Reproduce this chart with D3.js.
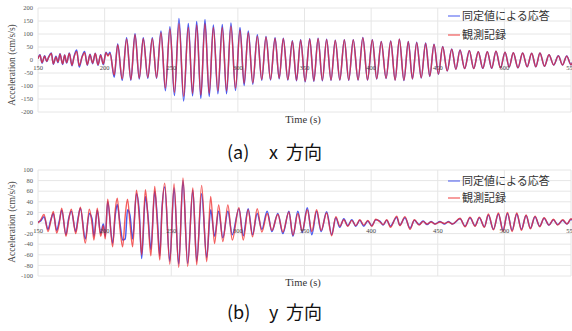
<!DOCTYPE html>
<html><head><meta charset="utf-8">
<script src="https://cdn.jsdelivr.net/npm/d3@7"></script>
<style>body{margin:0;background:#fff}svg{display:block}</style>
</head><body>
<script>
// ---------- data ----------
const xTicks = [150,200,250,300,350,400,450,500,550];
const aYTicks = [-200,-150,-100,-50,0,50,100,150,200];
const bYTicks = [-100,-80,-60,-40,-20,0,20,40,60,80,100];
const legendLabels = ["同定値による応答","観測記録"];
const xTitle = "Time (s)";
const yTitle = "Acceleration (cm/s/s)";

// panel (a) x direction: extrema times (s) and accelerations (cm/s/s)
const aTime = [150,151.5,153,155,156.5,158,160,161.5,163.5,165,166.5,168.5,170,171.5,173.5,175.5,177,179,181,183,185,187,189,191,193,195,197,199,201,202.5,204,207.2,209.8,213.2,216.5,219.7,222.8,226,229,232.4,235.8,239,242.3,245.6,249,252.4,255.8,259.3,262.8,266,269.1,272.2,275.3,278.5,281.6,285,288.3,291.5,294.8,298.2,301.6,304.7,307.8,311.2,314.6,317.9,321.1,324.5,327.9,331,334.1,337.5,340.9,344,347.1,350.5,353.9,357,360.2,363.4,366.6,369.9,373.1,376.5,379.9,383.2,386.6,390.2,393.8,397.3,400.9,404.2,407.6,411.2,414.7,418,421.2,424.6,427.9,431,434.2,437.6,440.9,444,447.2,450.5,453.7,457.1,460.5,463.6,466.7,470.2,473.7,477,480.4,483.8,487.2,490.5,493.7,497.1,500.5,503.6,506.7,510.2,513.7,517.1,520.5,523.6,526.7,530.1,533.5,537,540.5,543.6,546.8,550,551.5];
const aObserved = [5,18,-10,15,-5,10,25,-15,12,-8,22,-15,18,-10,25,-20,10,33,-22,10,28,-18,20,-12,25,-18,18,-15,28,15,25,-58,58,-72,80,-75,97,-70,82,-67,82,-68,105,-108,118,-125,140,-140,125,-128,135,-135,140,-128,125,-118,125,-118,130,-108,115,-90,105,-88,92,-75,88,-75,83,-70,82,-75,72,-78,76,-82,80,-80,82,-78,78,-77,75,-76,77,-77,77,-76,85,-76,77,-72,70,-70,72,-77,80,-78,70,-72,67,-68,64,-62,60,-54,51,-42,42,-36,38,-33,36,-33,32,-32,32,-32,34,-31,30,-27,28,-30,27,-26,26,-26,27,-24,20,-19,16,-19,15,-18,-5];
const aIdentified = [6,20,-12,16,-6,12,27,-16,14,-10,24,-17,19,-12,27,-22,12,38,-27,12,33,-20,22,-14,26,-20,20,-18,30,18,30,-66,62,-78,86,-78,101,-73,86,-70,86,-70,112,-118,128,-137,160,-158,140,-138,148,-148,156,-140,135,-130,137,-130,142,-117,125,-98,112,-93,97,-78,90,-77,86,-72,84,-77,74,-80,78,-84,82,-82,84,-80,80,-78,76,-77,78,-78,78,-77,87,-77,78,-73,71,-71,73,-77,80,-79,71,-73,68,-69,65,-63,61,-55,52,-42,42,-36,38,-33,36,-33,32,-32,32,-32,34,-31,30,-27,28,-30,27,-26,26,-26,27,-24,20,-19,16,-19,15,-18,-5];

// panel (b) y direction
const bTime = [150,152,154.5,157.5,159.5,161.5,164,166,167.8,171,173,175,178.3,180,181.8,185.5,188.5,190.5,192,194.5,197,199,200.5,202.3,206,208,209.5,211.5,213.5,215.5,217.2,219,221,223.9,226,227.8,230.6,232.5,234.7,237.6,239.5,241.4,243,245.1,248.9,252.1,255.6,258.8,262.3,266.2,269.1,272.8,276.6,279.6,282.5,285.6,288.7,292.5,295.8,300.8,304,307.7,311,314.5,318,322,325.5,330,333.8,338.3,341.3,345,348.3,352.1,355.5,359.1,362.5,366.6,370.4,373.5,376.5,379.5,382.5,385.5,388.5,391.5,394.5,397.5,400.5,403.5,406.7,409,411.7,414.5,419.2,421.5,425.4,429.2,432.5,436,439,442,445,448,451.7,455,458,461,466.7,470.5,474.2,478,481.2,485,488,491.8,495.5,499,502.3,505.8,509.3,512.8,516.3,519.5,523,526.5,529.8,533.5,536.8,540,543.8,547,550,551.5];
const bObserved = [0,6,16,-16,2,22,-19,0,28,-25,5,26,-20,5,30,-38,26,0,-32,28,-25,-5,-30,45,-45,25,47,-10,-45,15,45,0,-45,62,10,-60,63,10,-62,69,0,-70,20,75,-78,74,-84,85,-82,66,-79,71,-73,50,-39,34,-35,34,-32,29,-32,25,-26,27,-17,18,-14,16,-17,21,-23,18,-15,25,-16,25,-14,19,-24,12,-6,6,-6,5,-5,6,-4,5,-6,7,2,-3,6,-8,13,-5,12,-12,6,-4,3,-2,2,-2,2,-1,2,-2,9,-7,11,-6,11,-8,17,-13,19,-16,20,-16,19,-14,15,-11,13,-7,10,-4,7,-4,6,-2,8,4];
const bIdentified = [2,4,12,-12,5,18,-14,4,24,-22,8,22,-16,8,28,-30,18,8,-25,24,-20,-2,-25,40,-38,15,35,0,-32,-30,25,15,-30,55,20,-67,50,15,-50,60,10,-62,25,68,-72,66,-78,80,-76,62,-72,55,-65,25,-25,22,-28,22,-22,27,-24,27,-22,18,-12,22,-16,18,-20,22,-25,22,-18,29,-22,22,-16,21,-22,10,-8,8,-5,6,-6,5,-6,4,-5,6,3,-4,5,-6,11,-4,10,-10,5,-3,4,-3,3,-2,3,-2,3,-2,8,-6,10,-5,10,-7,15,-12,17,-14,18,-14,17,-12,14,-10,12,-6,9,-4,6,-3,5,-2,7,4];

// ---------- drawing ----------
const W = 572, H = 331;
const BLUE = "#3347f0", RED = "#f02a2a";
const svg = d3.select("body").append("svg").attr("width", W).attr("height", H);

const x = d3.scaleLinear().domain([150, 550]).range([38, 571]);

function panel(o) {
  const y = d3.scaleLinear().domain(o.domain).range([o.bottom, o.top]);
  const g = svg.append("g");
  const clipId = "clip" + o.id;
  svg.append("clipPath").attr("id", clipId).append("rect")
    .attr("x", 38).attr("y", o.top - 2).attr("width", W - 38).attr("height", o.bottom - o.top + 4);

  // grid
  g.selectAll(".hg").data(o.yTicks).join("line")
    .attr("x1", 38).attr("x2", 571).attr("y1", d => y(d)).attr("y2", d => y(d))
    .attr("stroke", "#e6e6e6").attr("stroke-width", 1);
  g.selectAll(".vg").data(xTicks).join("line")
    .attr("x1", d => x(d)).attr("x2", d => x(d)).attr("y1", o.top).attr("y2", o.bottom)
    .attr("stroke", "#e6e6e6").attr("stroke-width", 1);

  // y tick labels
  g.selectAll(".yl").data(o.yTicks).join("text")
    .attr("x", 33).attr("y", d => y(d)).attr("dy", "0.35em")
    .attr("text-anchor", "end").attr("font-family", "Liberation Serif")
    .attr("font-size", 6.5).attr("fill", "#555").text(d => d);

  // series
  const line = d3.line().x(d => x(d[0])).y(d => y(d[1])).curve(d3.curveMonotoneX);
  const n = Math.min(o.time.length, o.obs.length, o.sim.length);
  const simPts = d3.range(n).map(i => [o.time[i], o.sim[i]]);
  const obsPts = d3.range(n).map(i => [o.time[i], o.obs[i]]);
  const lg = svg.append("g").attr("clip-path", `url(#${clipId})`);
  lg.append("path").attr("d", line(simPts)).attr("fill", "none")
    .attr("stroke", BLUE).attr("stroke-width", 1.5).attr("stroke-opacity", 0.9);
  lg.append("path").attr("d", line(obsPts)).attr("fill", "none")
    .attr("stroke", RED).attr("stroke-width", 1.4).attr("stroke-opacity", 0.75);

  // x tick labels at zero line
  svg.append("g").selectAll("text").data(xTicks).join("text")
    .attr("x", d => x(d)).attr("y", y(0) + 9.5).attr("text-anchor", "middle")
    .attr("font-family", "Liberation Serif").attr("font-size", 6.5).attr("fill", "#444")
    .text(d => d);

  // axis titles
  svg.append("text").attr("transform", `translate(15,${o.yTitleY}) rotate(-90)`)
    .attr("text-anchor", "middle").attr("font-family", "Liberation Serif")
    .attr("font-size", 9.5).attr("fill", "#444").text(yTitle);
  svg.append("text").attr("x", 303).attr("y", o.xTitleY).attr("text-anchor", "middle")
    .attr("font-family", "Liberation Serif").attr("font-size", 10.5).attr("fill", "#333").text(xTitle);

  // legend
  const leg = svg.append("g");
  [BLUE, RED].forEach((c, i) => {
    const ly = o.legY[i];
    leg.append("line").attr("x1", 448).attr("x2", 460).attr("y1", ly).attr("y2", ly)
      .attr("stroke", c).attr("stroke-width", 1.3).attr("stroke-opacity", 0.7);
    leg.append("text").attr("x", 462).attr("y", ly).attr("dy", "0.36em")
      .attr("font-family", "Noto Sans CJK JP").attr("font-size", 11).attr("fill", "#333")
      .text(legendLabels[i]);
  });

  // caption
  const cap = svg.append("text").attr("y", o.capY).attr("dy", "0.36em")
    .attr("font-family", "Noto Sans CJK JP").attr("font-size", 18).attr("fill", "#111");
  cap.append("tspan").attr("x", 227).text("(" + o.letter + ")");
  cap.append("tspan").attr("x", 269).text(o.dir);
  cap.append("tspan").attr("x", 286).text("方向");
}

panel({id: "a", domain: [-200, 200], top: 8, bottom: 112, yTicks: aYTicks,
  time: aTime, obs: aObserved, sim: aIdentified, xTitleY: 123, yTitleY: 65, legY: [16, 35],
  capY: 153, letter: "a", dir: "x"});
panel({id: "b", domain: [-100, 100], top: 170, bottom: 276, yTicks: bYTicks,
  time: bTime, obs: bObserved, sim: bIdentified, xTitleY: 286, yTitleY: 222, legY: [181, 198],
  capY: 313, letter: "b", dir: "y"});
</script>
</body></html>
